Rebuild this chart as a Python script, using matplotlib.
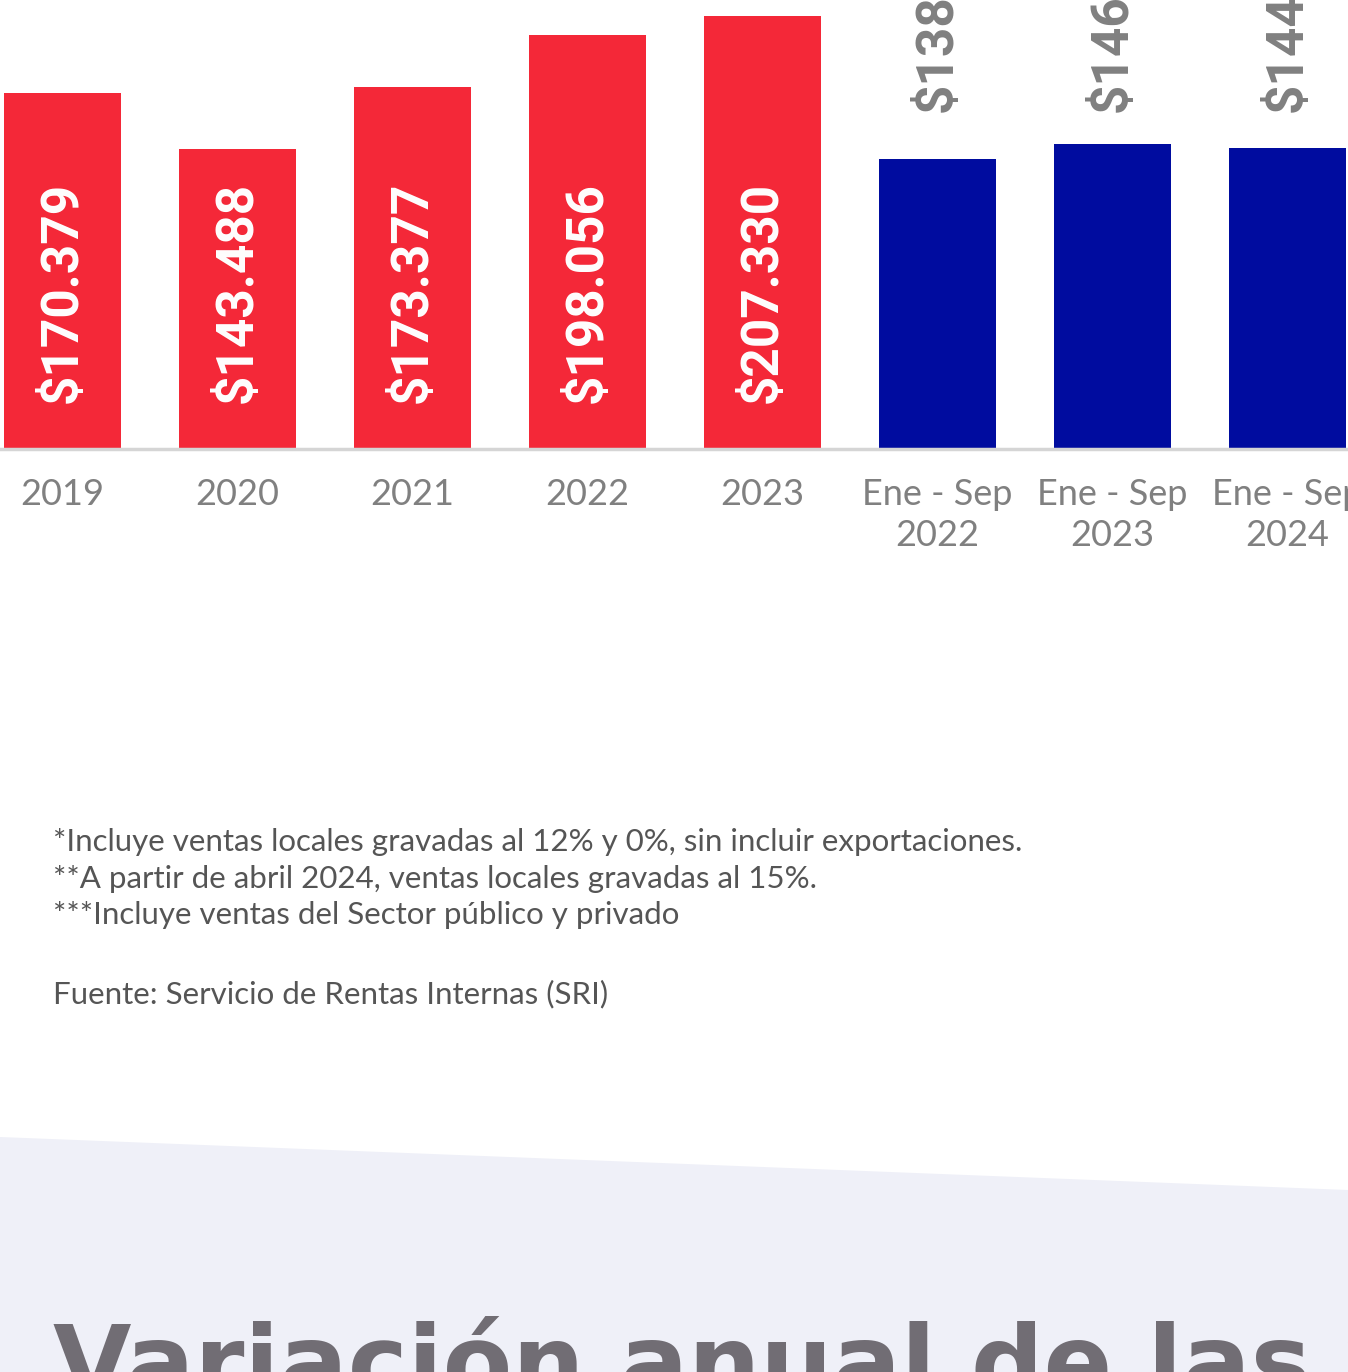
import matplotlib.pyplot as plt
from matplotlib.patches import Polygon

# ventas en millones de dolares
categorias = ['2019', '2020', '2021', '2022', '2023',
              'Ene - Sep\n2022', 'Ene - Sep\n2023', 'Ene - Sep\n2024']
valores = [170.379, 143.488, 173.377, 198.056, 207.330, 138.8, 145.9, 144.2]
etiquetas = ['$170.379', '$143.488', '$173.377', '$198.056', '$207.330',
             '$138.812', '$146.027', '$144.215']
colores = ['#f42838'] * 5 + ['#000c9f'] * 3

W, H = 1348, 1372
fig = plt.figure(figsize=(W / 100, H / 100), dpi=100)
fig.patch.set_facecolor('white')

base = 449
esc = 2.0895  # px por unidad
ax = fig.add_axes([0, 1 - base / H, 1, base / H])
ax.set_facecolor('none')
x = list(range(len(valores)))
ax.bar(x, valores, width=0.67, color=colores, zorder=2)
ax.set_xlim(-62.5 / 175, (W - 62.5) / 175)
ax.set_ylim(0, base / esc)

for i, t in enumerate(etiquetas):
    if i < 5:
        ax.text(i, 46 / esc, t, rotation=90, ha='center', va='bottom', color='white',
                fontsize=37, fontweight='bold', family=['Roboto', 'DejaVu Sans'], zorder=3)
    else:
        # etiquetas de los periodos parciales a altura fija
        ax.text(i, 337 / esc, t, rotation=90, ha='center', va='bottom', color='#808080',
                fontsize=37, fontweight='bold', family=['Roboto', 'DejaVu Sans'], zorder=3)

for s in ['top', 'left', 'right']:
    ax.spines[s].set_visible(False)
ax.spines['bottom'].set_color('#d5d5d5')
ax.spines['bottom'].set_linewidth(2.5)
ax.set_yticks([])
ax.set_xticks(x)
ax.set_xticklabels(categorias, fontsize=26, color='#808080', family=['Lato', 'DejaVu Sans'],
                   linespacing=1.3)
ax.tick_params(axis='x', length=0, pad=21)

# notas
notas = ['*Incluye ventas locales gravadas al 12% y 0%, sin incluir exportaciones.',
         '**A partir de abril 2024, ventas locales gravadas al 15%.',
         '***Incluye ventas del Sector público y privado']
ys = [851, 888, 924]
for y, n in zip(ys, notas):
    fig.text(53 / W, 1 - y / H, n, fontsize=22.5, color='#555555', va='baseline',
             family=['Lato', 'DejaVu Sans'])
fig.text(53 / W, 1 - 1003 / H, 'Fuente: Servicio de Rentas Internas (SRI)', fontsize=22.5,
         color='#555555', va='baseline', family=['Lato', 'DejaVu Sans'])

# franja inferior
poly = Polygon([(0, 1 - 1137 / H), (1, 1 - 1190 / H), (1, 0), (0, 0)],
               closed=True, transform=fig.transFigure, facecolor='#eff0f8',
               edgecolor='none', zorder=0)
fig.patches.append(poly)

fig.text(53 / W, 1 - 1398 / H, 'Variación anual de las ventas', fontsize=73,
         color='#716d74', va='baseline', fontweight='bold',
         family=['DejaVu Sans'], zorder=2)

fig.savefig('out.png', dpi=100)
